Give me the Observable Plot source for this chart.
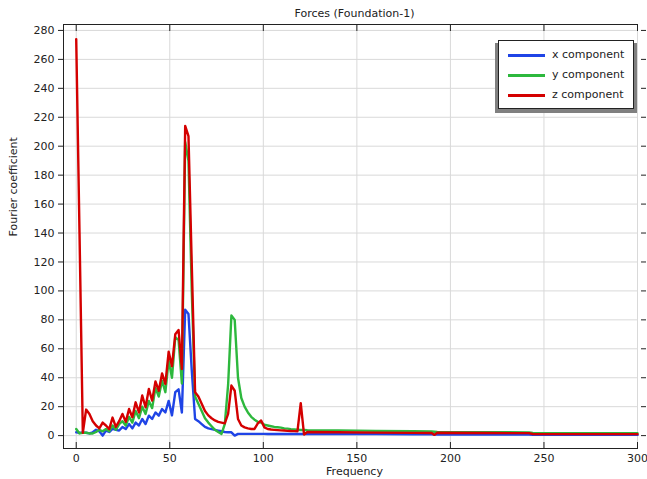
<!DOCTYPE html>
<html><head><meta charset="utf-8">
<script src="https://cdn.jsdelivr.net/npm/d3@7"></script>
<script src="https://cdn.jsdelivr.net/npm/@observablehq/plot@0.6"></script>
<style>
body{margin:0;background:#fff;font-family:"DejaVu Sans",sans-serif;}
#wrap{position:relative;width:647px;height:479px;}
#shadow{position:absolute;left:495px;top:43px;width:142px;height:70px;background:#808080;}
#legend{position:absolute;left:498px;top:40px;width:134px;height:67px;background:#fff;border:1.5px solid #222;}
.item{position:absolute;left:53px;font-size:11px;color:#222;line-height:14px;}
.sw{position:absolute;left:9px;width:37px;height:3px;}
</style></head><body><div id="wrap"></div>
<script>
const freq = [0, 1.76, 3.53, 5.29, 7.06, 8.82, 10.59, 12.35, 14.12, 15.88,
  17.65, 19.41, 21.18, 22.94, 24.71, 26.47, 28.24, 30, 31.76, 33.53,
  35.29, 37.06, 38.82, 40.59, 42.35, 44.12, 45.88, 47.65, 49.41, 51.18,
  52.94, 54.71, 56.47, 58.24, 60, 61.76, 63.53, 65.29, 67.06, 68.82,
  70.59, 72.35, 74.12, 75.88, 77.65, 79.41, 81.18, 82.94, 84.71, 86.47,
  88.24, 90, 91.76, 93.53, 95.29, 97.06, 98.82, 100.59, 102.35, 104.12,
  105.88, 107.65, 109.41, 111.18, 112.94, 114.71, 116.47, 118.24, 120, 121.76,
  123.53, 140, 160, 180, 190, 191.5, 193, 220, 242, 244, 270, 300];
const xComp = [2.3, 2, 2, 2, 1.5, 2.3, 4, 3, 0, 3.5,
  2.5, 4.6, 4, 3.5, 6, 4.5, 8, 5, 9, 7,
  11.5, 8, 13.8, 11.5, 16, 13.8, 18.4, 16, 24, 14,
  30, 32, 16, 87, 84, 45, 11.5, 10, 8, 6,
  5, 4.5, 4, 3.5, 3, 2.5, 2.3, 2.3, 0, 1.2,
  1.2, 1.2, 1.2, 1.2, 1.2, 1.2, 1.2, 1.2, 1.1, 1.1,
  1.1, 1.1, 1.1, 1.1, 1.1, 1.1, 1.1, 1.1, 1.1, 1.1,
  1.1, 1, 1, 0.9, 0.9, 0.8, 0.8, 0.7, 0.7, 0.6, 0.6, 0.5];
const yComp = [4.6, 1.5, 2, 2, 1.5, 1.5, 2.5, 4, 3, 4.5,
  3, 7, 4, 8, 10, 7, 13, 9, 17, 12,
  20, 15, 24, 19, 33, 27, 38, 30, 52, 40,
  68, 66, 36, 203, 190, 100, 27, 22, 17, 12,
  9, 6.5, 4, 2.5, 1.2, 8, 35, 83, 80, 40,
  26, 20, 16, 13, 11, 9.5, 9, 7.5, 7, 6.5,
  6, 5.8, 5.5, 5, 4.8, 4.5, 4.3, 4.1, 3.9, 3.9,
  3.8, 3.6, 3.3, 3, 2.8, 2.7, 2.6, 2.4, 2.2, 1.8, 1.7, 1.6];
const zComp = [274, 140, 2, 18, 15, 10, 7, 5, 9, 7,
  4.5, 12.5, 6, 10, 15, 9.5, 18.4, 12.7, 23, 16,
  27.7, 19.6, 32.3, 24.2, 37.5, 31, 43, 35.7, 58, 48,
  70, 73, 46, 214, 207, 118, 30, 27, 22, 17,
  14, 12, 10.5, 9.5, 9, 8.5, 15, 34.6, 31, 11.5,
  7, 5.7, 5, 4.6, 4.6, 8.5, 10.5, 5.7, 4.6, 4.2,
  4, 3.8, 3.6, 3.5, 3.3, 3.2, 3.1, 3, 22.4, 0.8,
  2.5, 2.3, 2.1, 1.9, 1.8, 0.5, 2, 1.8, 1.7, 1.1, 1, 1];
const seriesNames = ["x component", "y component", "z component"];
const seriesColors = ["#1f44e6", "#2db83d", "#d40000"];
const xTicks = [0, 50, 100, 150, 200, 250, 300];
const yTicks = [0, 20, 40, 60, 80, 100, 120, 140, 160, 180, 200, 220, 240, 260, 280];

const series = [xComp, yComp, zComp];
const rows = s => freq.map((f, i) => ({f, v: s[i]}));

const plot = Plot.plot({
  width: 647, height: 479,
  marginLeft: 63, marginRight: 10, marginTop: 24, marginBottom: 31,
  style: {fontFamily: "DejaVu Sans, sans-serif", fontSize: "11px", color: "#222", background: "#fff"},
  x: {domain: [-6.8, 300]},
  y: {domain: [-8.9, 284.1]},
  marks: [
    Plot.gridX(xTicks, {stroke: "#d9d9d9", strokeOpacity: 1}),
    Plot.gridY(yTicks, {stroke: "#d9d9d9", strokeOpacity: 1}),
    ...series.map((s, i) => Plot.line(rows(s), {x: "f", y: "v", stroke: seriesColors[i], strokeWidth: 2.4})),
    Plot.frame({anchor: "left", stroke: "#222"}),
    Plot.frame({anchor: "top", stroke: "#222"}),
    Plot.frame({anchor: "bottom", stroke: "#222"}),
    Plot.axisY(yTicks, {tickSize: 5, tickPadding: 4, label: null}),
    Plot.axisY(yTicks, {anchor: "right", tickSize: 5, dx: 3, tickFormat: () => "", label: null}),
    Plot.axisX(xTicks, {anchor: "top", tickSize: 6, dy: 6, tickFormat: () => "", label: null}),
    Plot.axisX(xTicks, {anchor: "bottom", tickSize: 6, dy: -6, tickFormat: () => "", label: null}),
    Plot.axisX(xTicks, {anchor: "bottom", tickSize: 0, tickPadding: 6, label: null}),
    Plot.text(["Forces (Foundation-1)"], {frameAnchor: "top", dy: -11, dx: 4, lineAnchor: "middle"}),
    Plot.text(["Frequency"], {frameAnchor: "bottom", dy: 23, dx: 4, lineAnchor: "middle"}),
    Plot.text(["Fourier coefficient"], {frameAnchor: "left", dx: -50, rotate: -90})
  ]
});
const wrap = document.getElementById("wrap");
wrap.appendChild(plot);
const shadow = document.createElement("div"); shadow.id = "shadow"; wrap.appendChild(shadow);
const legend = document.createElement("div"); legend.id = "legend"; wrap.appendChild(legend);
seriesNames.forEach((name, i) => {
  const sw = document.createElement("div");
  sw.className = "sw"; sw.style.background = seriesColors[i]; sw.style.top = (12.5 + i * 20) + "px";
  legend.appendChild(sw);
  const t = document.createElement("div");
  t.className = "item"; t.textContent = name; t.style.top = (7 + i * 20) + "px";
  legend.appendChild(t);
});
</script></body></html>
